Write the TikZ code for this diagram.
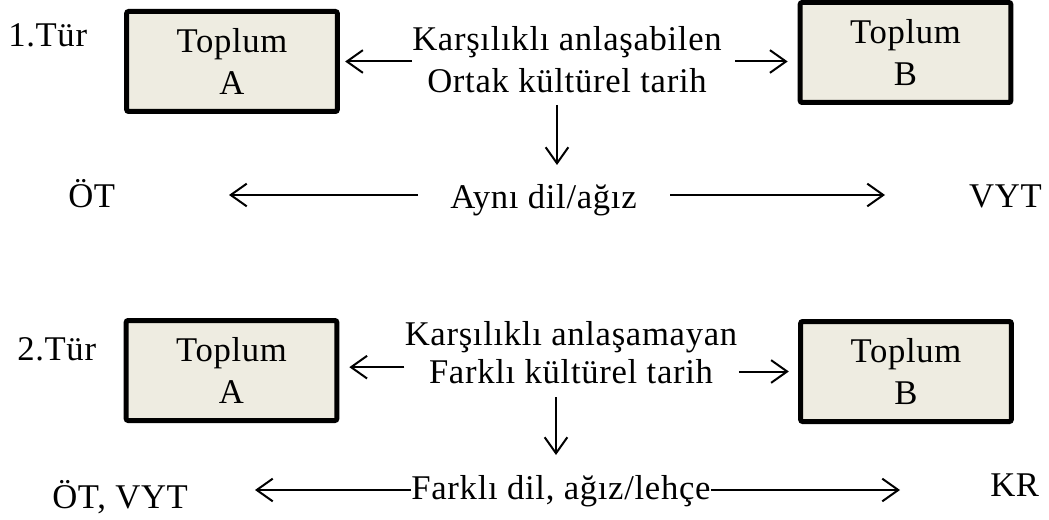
\documentclass[tikz,border=0pt]{standalone}
\usepackage{fontspec}
\setmainfont{Liberation Serif}[LetterSpace=2]
\usetikzlibrary{arrows.meta}
\definecolor{boxfill}{HTML}{EEECE1}
\begin{document}
\begin{tikzpicture}[x=0.75pt,y=-0.75pt,
  every node/.style={font=\fontsize{26}{31}\selectfont, inner sep=0pt, align=center},
  toplum/.style={draw, line width=3.75pt, fill=boxfill, rounded corners=1.5pt,
    minimum width=158pt, minimum height=75pt},
  arr/.style={line width=1.5pt, -{Straight Barb[length=12pt,width=17pt]}}]
\useasboundingbox (0,0) rectangle (1049,520);

% ---- first type ----
\node[anchor=base west] (t1) at (8,47) {1.Tür};
\node[toplum] (A1) at (232,61.5) {Toplum\\A};
\node[toplum] (B1) at (905.5,52.5) {Toplum\\B};
\node[font=\fontsize{26}{31.5}\selectfont] (k1) at (567,60) {Karşılıklı anlaşabilen\\Ortak kültürel tarih};
\node[anchor=base west] (ot1) at (68,208) {ÖT};
\node[anchor=base west] (a1) at (450,209) {Aynı dil/ağız};
\node[anchor=base east] (vyt1) at (1042,208) {VYT};

\draw[arr, shorten >=4pt] (k1.west |- A1.east) -- (A1.east);
\draw[arr, shorten <=10pt, shorten >=7.5pt] (k1.east |- A1.east) -- (B1.west |- A1.east);
\coordinate (d1) at (557,105);
\coordinate (d1e) at (557,165);
\draw[arr] (d1) -- (d1e);
\coordinate (l1) at (229,195);
\coordinate (r1) at (885,195);
\draw[arr, shorten <=24pt] (a1.west |- l1) -- (l1);
\draw[arr, shorten <=25pt] (a1.east |- r1) -- (r1);

% ---- second type ----
\node[anchor=base west] (t2) at (17,360) {2.Tür};
\node[toplum] (A2) at (231.5,370.5) {Toplum\\A};
\node[toplum] (B2) at (906,371.5) {Toplum\\B};
\node[font=\fontsize{26}{28}\selectfont] (k2) at (571,352.5) {Karşılıklı anlaşamayan\\Farklı kültürel tarih};
\node[anchor=base west] (otv) at (52,508) {ÖT, VYT};
\node[anchor=base] (f2) at (561,499) {Farklı dil, ağız/lehçe};
\node[anchor=base west] (kr) at (990,496) {KR};

\draw[arr, shorten >=7.5pt] ([yshift=2.5pt]k2.west |- A2.east) -- ([yshift=2.5pt]A2.east);
\draw[arr, shorten <=1pt, shorten >=7pt] (k2.east |- B2.west) -- (B2.west);
\coordinate (d2) at (556,397);
\coordinate (d2e) at (556,455);
\draw[arr] (d2) -- (d2e);
\coordinate (l2) at (255,490);
\coordinate (r2) at (900,490);
\draw[arr] (f2.west |- l2) -- (l2);
\draw[arr] (f2.east |- r2) -- (r2);
\end{tikzpicture}
\end{document}
